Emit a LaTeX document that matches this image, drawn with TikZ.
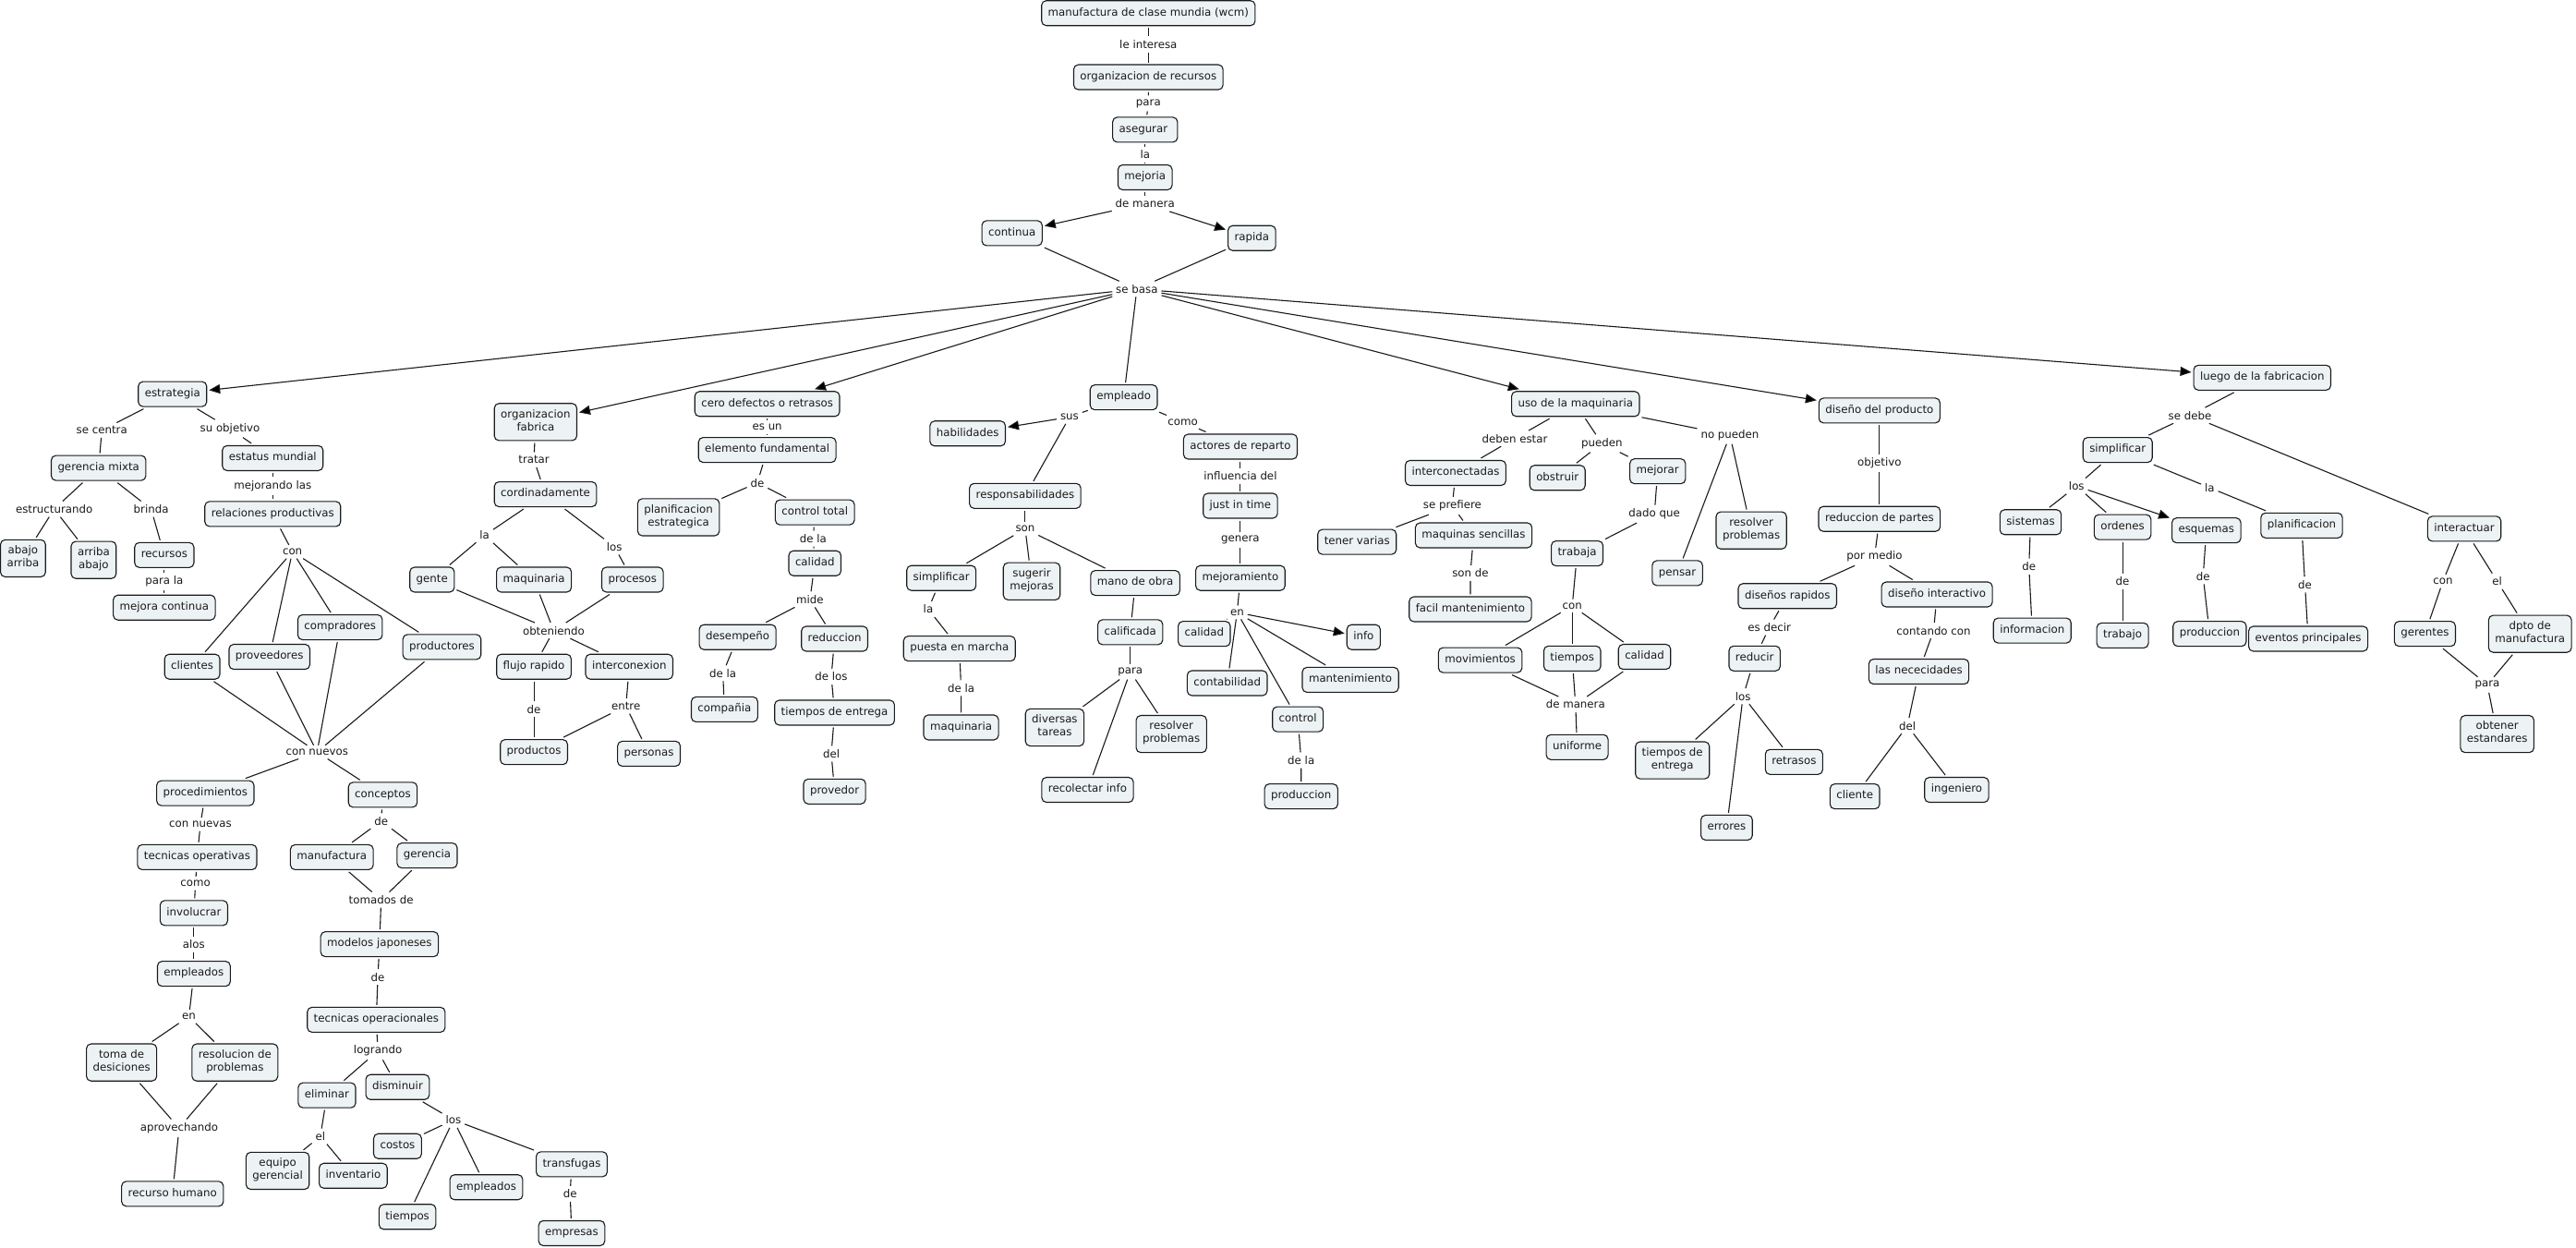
\documentclass[tikz,border=0pt]{standalone}
\usepackage{fontspec}
\setmainfont{DejaVu Sans}
\usetikzlibrary{arrows.meta}
\definecolor{boxfill}{HTML}{EDF3F5}
\definecolor{ink}{HTML}{1A1A1A}
\begin{document}
\begin{tikzpicture}[x=1.7787pt,y=-1.7776pt,
  every node/.style={font=\fontsize{11.8}{14}\selectfont, text=ink},
  cpt/.style={draw=ink, line width=1.1pt, rounded corners=5pt, fill=boxfill, inner xsep=7pt, inner ysep=6.5pt, align=center, outer sep=2.5pt, execute at begin node=\strut},
  lbl/.style={inner sep=3pt, outer sep=1pt, align=center},
  ln/.style={draw=ink, line width=1.1pt},
  arr/.style={-{Triangle[length=12pt,width=10pt]}},
]
\useasboundingbox[fill=white] (0,0) rectangle (1568,760);

% ---------- top chain ----------
\node[cpt] (wcm) at (699,8) {manufactura de clase mundia (wcm)};
\node[lbl] (l1) at (699,27) {le interesa};
\node[cpt] (orgrec) at (699,47) {organizacion de recursos};
\node[lbl] (l2) at (699,63) {para};
\node[cpt] (aseg) at (697,79) {asegurar\ };
\node[lbl] (l3) at (697,94) {la};
\node[cpt] (mejoria) at (697,108) {mejoria};
\node[lbl] (l4) at (697,124) {de manera};
\node[cpt] (continua) at (616,142) {continua};
\node[cpt] (rapida) at (762,145) {rapida};
\node[lbl] (sebasa) at (692,176) {se basa};

% ---------- estrategia ----------
\node[cpt] (estr) at (105,240) {estrategia};
\node[lbl] (l5) at (62,262) {se centra};
\node[lbl] (l6) at (140,261) {su objetivo};
\node[cpt] (germix) at (60,285) {gerencia mixta};
\node[cpt] (estmun) at (166,279) {estatus mundial};
\node[lbl] (l7) at (166,296) {mejorando las};
\node[cpt] (relprod) at (166,313) {relaciones productivas};
\node[lbl] (l8) at (33,310) {estructurando};
\node[lbl] (l9) at (92,310) {brinda};
\node[cpt] (abar) at (14,340) {abajo\\\strut arriba};
\node[cpt] (arab) at (57,341) {arriba\\\strut abajo};
\node[cpt] (recur) at (100,338) {recursos};
\node[lbl] (l10) at (100,354) {para la};
\node[cpt] (mejcont) at (100,370) {mejora continua};
\node[lbl] (l11) at (178,336) {con};
\node[cpt] (clientes) at (117,406) {clientes};
\node[cpt] (provee) at (164,400) {proveedores};
\node[cpt] (compra) at (207,382) {compradores};
\node[cpt] (produc) at (269,394) {productores};
\node[lbl] (l12) at (193,458) {con nuevos};
\node[cpt] (proced) at (125,483) {procedimientos};
\node[cpt] (concep) at (233,484) {conceptos};
\node[lbl] (l13) at (122,502) {con nuevas};
\node[cpt] (tecop) at (120,522) {tecnicas operativas};
\node[lbl] (l14) at (232,500) {de};
\node[cpt] (manuf) at (202,522) {manufactura};
\node[cpt] (geren) at (260,521) {gerencia};
\node[lbl] (l15) at (232,548) {tomados de};
\node[lbl] (l16) at (119,538) {como};
\node[cpt] (involu) at (118,556) {involucrar};
\node[lbl] (l17) at (118,575) {alos};
\node[cpt] (emplea1) at (118,593) {empleados};
\node[lbl] (l18) at (115,619) {en};
\node[cpt] (toma) at (74,647) {toma de\\\strut desiciones};
\node[cpt] (resol1) at (143,647) {resolucion de\\\strut problemas};
\node[lbl] (l19) at (109,687) {aprovechando};
\node[cpt] (rechum) at (105,727) {recurso humano};
\node[cpt] (modjap) at (231,575) {modelos japoneses};
\node[lbl] (l20) at (230,595) {de};
\node[cpt] (tecopr) at (229,621) {tecnicas operacionales};
\node[lbl] (l21) at (230,640) {logrando};
\node[cpt] (elim) at (199,667) {eliminar};
\node[cpt] (dismi) at (242,662) {disminuir};
\node[lbl] (l22) at (195,692) {el};
\node[cpt] (eqger) at (169,713) {equipo\\\strut gerencial};
\node[cpt] (invent) at (215,716) {inventario};
\node[lbl] (l23) at (276,682) {los};
\node[cpt] (costos) at (242,698) {costos};
\node[cpt] (tiemp1) at (248,741) {tiempos};
\node[cpt] (emplea2) at (296,723) {empleados};
\node[cpt] (transf) at (348,709) {transfugas};
\node[lbl] (l24) at (347,727) {de};
\node[cpt] (empres) at (348,751) {empresas};

% ---------- organizacion fabrica ----------
\node[cpt] (orgfab) at (326,257) {organizacion\\\strut fabrica};
\node[lbl] (l25) at (325,280) {tratar};
\node[cpt] (cordin) at (332,301) {cordinadamente};
\node[lbl] (l26) at (295,326) {la};
\node[lbl] (l27) at (374,333) {los};
\node[cpt] (gente) at (263,353) {gente};
\node[cpt] (maq1) at (325,353) {maquinaria};
\node[cpt] (proces) at (385,353) {procesos};
\node[lbl] (l28) at (337,384) {obteniendo};
\node[cpt] (flujo) at (325,406) {flujo rapido};
\node[cpt] (intercx) at (383,406) {interconexion};
\node[lbl] (l29) at (325,432) {de};
\node[lbl] (l30) at (381,430) {entre};
\node[cpt] (produc2) at (325,458) {productos};
\node[cpt] (person) at (395,459) {personas};

% ---------- cero defectos ----------
\node[cpt] (cero) at (467,246) {cero defectos o retrasos};
\node[lbl] (l31) at (467,260) {es un};
\node[cpt] (elemf) at (467,274) {elemento fundamental};
\node[lbl] (l32) at (461,294) {de};
\node[cpt] (planif1) at (413,315) {planificacion\\\strut estrategica};
\node[cpt] (ctrltot) at (496,312) {control total};
\node[lbl] (l33) at (495,328) {de la};
\node[cpt] (calid1) at (496,343) {calidad};
\node[lbl] (l34) at (493,365) {mide};
\node[cpt] (desemp) at (449,388) {desempeño};
\node[cpt] (reduc1) at (508,389) {reduccion};
\node[lbl] (l35) at (440,410) {de la};
\node[lbl] (l36) at (506,412) {de los};
\node[cpt] (compan) at (441,432) {compañia};
\node[cpt] (tiement1) at (508,434) {tiempos de entrega};
\node[lbl] (l37) at (506,459) {del};
\node[cpt] (provd) at (508,482) {provedor};

% ---------- empleado ----------
\node[cpt] (emplead) at (684,242) {empleado};
\node[lbl] (l38) at (651,254) {sus};
\node[lbl] (l39) at (720,257) {como};
\node[cpt] (habil) at (589,264) {habilidades};
\node[cpt] (actores) at (755,272) {actores de reparto};
\node[cpt] (respon) at (624,302) {responsabilidades};
\node[lbl] (l40) at (755,290) {influencia del};
\node[cpt] (jit) at (755,308) {just in time};
\node[lbl] (l41) at (624,322) {son};
\node[lbl] (l42) at (755,329) {genera};
\node[cpt] (simp1) at (573,352) {simplificar};
\node[cpt] (suger) at (628,354) {sugerir\\\strut mejoras};
\node[cpt] (manob) at (691,355) {mano de obra};
\node[cpt] (mejoram) at (755,352) {mejoramiento};
\node[lbl] (l43) at (565,371) {la};
\node[lbl] (l44) at (753,373) {en};
\node[cpt] (puesta) at (584,395) {puesta en marcha};
\node[cpt] (calif) at (688,385) {calificada};
\node[cpt] (calid2) at (733,386) {calidad};
\node[cpt] (info) at (830,388) {info};
\node[lbl] (l45) at (688,409) {para};
\node[cpt] (contab) at (747,416) {contabilidad};
\node[cpt] (manten) at (822,414) {mantenimiento};
\node[lbl] (l46) at (585,419) {de la};
\node[cpt] (maq2) at (585,443) {maquinaria};
\node[cpt] (divers) at (642,443) {diversas\\\strut tareas};
\node[cpt] (resol2) at (713,447) {resolver\\\strut problemas};
\node[cpt] (recol) at (662,481) {recolectar info};
\node[cpt] (control) at (790,438) {control};
\node[lbl] (l47) at (792,463) {de la};
\node[cpt] (produc3) at (792,485) {produccion};

% ---------- uso de la maquinaria ----------
\node[cpt] (uso) at (959,246) {uso de la maquinaria};
\node[lbl] (l48) at (922,267) {deben estar};
\node[lbl] (l49) at (975,270) {pueden};
\node[lbl] (l50) at (1053,265) {no pueden};
\node[cpt] (intercn) at (886,288) {interconectadas};
\node[cpt] (obstr) at (948,291) {obstruir};
\node[cpt] (mejorar) at (1009,287) {mejorar};
\node[lbl] (l51) at (884,308) {se prefiere};
\node[cpt] (tener) at (826,330) {tener varias};
\node[cpt] (maqsen) at (897,326) {maquinas sencillas};
\node[lbl] (l52) at (1007,313) {dado que};
\node[cpt] (resol3) at (1066,323) {resolver\\\strut problemas};
\node[cpt] (trabaja) at (960,337) {trabaja};
\node[lbl] (l53) at (895,349) {son de};
\node[cpt] (pensar) at (1021,349) {pensar};
\node[cpt] (facil) at (895,371) {facil mantenimiento};
\node[lbl] (l54) at (957,369) {con};
\node[cpt] (movim) at (901,402) {movimientos};
\node[cpt] (tiemp2) at (957,401) {tiempos};
\node[cpt] (calid3) at (1001,400) {calidad};
\node[lbl] (l55) at (959,429) {de manera};
\node[cpt] (unif) at (960,455) {uniforme};
\node[cpt] (tiement2) at (1018,463) {tiempos de\\\strut entrega};
\node[cpt] (retras) at (1092,464) {retrasos};
\node[cpt] (errores) at (1051,504) {errores};

% ---------- diseño del producto ----------
\node[cpt] (disprod) at (1144,250) {diseño del producto};
\node[lbl] (l56) at (1144,282) {objetivo};
\node[cpt] (redpart) at (1144,316) {reduccion de partes};
\node[lbl] (l57) at (1141,339) {por medio};
\node[cpt] (disrap) at (1088,363) {diseños rapidos};
\node[lbl] (l58) at (1077,382) {es decir};
\node[cpt] (disint) at (1179,362) {diseño interactivo};
\node[lbl] (l59) at (1177,384) {contando con};
\node[cpt] (reducir) at (1068,401) {reducir};
\node[cpt] (necec) at (1168,409) {las nececidades};
\node[lbl] (l60) at (1061,424) {los};
\node[lbl] (l61) at (1161,442) {del};
\node[cpt] (cliente) at (1129,485) {cliente};
\node[cpt] (ingen) at (1191,481) {ingeniero};

% ---------- luego de la fabricacion ----------
\node[cpt] (luego) at (1377,230) {luego de la fabricacion};
\node[lbl] (l62) at (1333,253) {se debe};
\node[cpt] (simp2) at (1289,274) {simplificar};
\node[lbl] (l63) at (1264,296) {los};
\node[lbl] (l64) at (1345,297) {la};
\node[cpt] (sistem) at (1236,318) {sistemas};
\node[cpt] (orden) at (1292,321) {ordenes};
\node[cpt] (esquem) at (1343,323) {esquemas};
\node[cpt] (planif2) at (1401,320) {planificacion};
\node[cpt] (interac) at (1500,322) {interactuar};
\node[lbl] (l65) at (1235,345) {de};
\node[lbl] (l66) at (1292,354) {de};
\node[lbl] (l67) at (1341,351) {de};
\node[lbl] (l68) at (1403,356) {de};
\node[lbl] (l69) at (1487,354) {con};
\node[lbl] (l70) at (1520,354) {el};
\node[cpt] (inform) at (1237,384) {informacion};
\node[cpt] (trabajo) at (1292,387) {trabajo};
\node[cpt] (produc4) at (1345,386) {produccion};
\node[cpt] (eventos) at (1405,389) {eventos principales};
\node[cpt] (gerent) at (1476,386) {gerentes};
\node[cpt] (dpto) at (1540,386) {dpto de\\\strut manufactura};
\node[lbl] (l71) at (1514,417) {para};
\node[cpt] (obten) at (1520,447) {obtener\\\strut estandares};

% ================= connectors =================
\draw[ln] (wcm) -- (l1) -- (orgrec);
\draw[ln] (orgrec) -- (l2) -- (aseg);
\draw[ln] (aseg) -- (l3) -- (mejoria);
\draw[ln] (mejoria) -- (l4);
\draw[ln] (l4) edge[arr] (continua) edge[arr] (rapida);
\draw[ln] (continua) -- (sebasa);
\draw[ln] (rapida) -- (sebasa);
\draw[ln] (sebasa) edge[arr] (estr) edge[arr] (orgfab) edge[arr] (cero)
      edge (emplead) edge[arr] (uso) edge[arr] (disprod) edge[arr] (luego);

% estrategia
\draw[ln] (estr) -- (l5) -- (germix);
\draw[ln] (estr) -- (l6) -- (estmun);
\draw[ln] (germix) -- (l8);
\draw[ln] (l8) edge (abar) edge (arab);
\draw[ln] (germix) -- (l9) -- (recur);
\draw[ln] (recur) -- (l10) -- (mejcont);
\draw[ln] (estmun) -- (l7) -- (relprod);
\draw[ln] (relprod) -- (l11);
\draw[ln] (l11) edge (clientes) edge (provee) edge (compra) edge (produc);
\draw[ln] (l12) edge (clientes) edge (provee) edge (compra) edge (produc)
      edge (proced) edge (concep);
\draw[ln] (proced) -- (l13) -- (tecop);
\draw[ln] (tecop) -- (l16) -- (involu);
\draw[ln] (involu) -- (l17) -- (emplea1);
\draw[ln] (emplea1) -- (l18);
\draw[ln] (l18) edge (toma) edge (resol1);
\draw[ln] (l19) edge (toma) edge (resol1) edge (rechum);
\draw[ln] (concep) -- (l14);
\draw[ln] (l14) edge (manuf) edge (geren);
\draw[ln] (l15) edge (manuf) edge (geren) edge (modjap);
\draw[ln] (modjap) -- (l20) -- (tecopr);
\draw[ln] (tecopr) -- (l21);
\draw[ln] (l21) edge (elim) edge (dismi);
\draw[ln] (elim) -- (l22);
\draw[ln] (l22) edge (eqger) edge (invent);
\draw[ln] (dismi) -- (l23);
\draw[ln] (l23) edge (costos) edge (tiemp1) edge (emplea2) edge (transf);
\draw[ln] (transf) -- (l24) -- (empres);

% organizacion fabrica
\draw[ln] (orgfab) -- (l25) -- (cordin);
\draw[ln] (cordin) -- (l26);
\draw[ln] (l26) edge (gente) edge (maq1);
\draw[ln] (cordin) -- (l27) -- (proces);
\draw[ln] (l28) edge (gente) edge (maq1) edge (proces) edge (flujo) edge (intercx);
\draw[ln] (flujo) -- (l29) -- (produc2);
\draw[ln] (intercx) -- (l30);
\draw[ln] (l30) edge (produc2) edge (person);

% cero defectos
\draw[ln] (cero) -- (l31) -- (elemf);
\draw[ln] (elemf) -- (l32);
\draw[ln] (l32) edge (planif1) edge (ctrltot);
\draw[ln] (ctrltot) -- (l33) -- (calid1);
\draw[ln] (calid1) -- (l34);
\draw[ln] (l34) edge (desemp) edge (reduc1);
\draw[ln] (desemp) -- (l35) -- (compan);
\draw[ln] (reduc1) -- (l36) -- (tiement1);
\draw[ln] (tiement1) -- (l37) -- (provd);

% empleado
\draw[ln] (emplead) -- (l38);
\draw[ln] (l38) edge[arr] (habil) edge (respon);
\draw[ln] (emplead) -- (l39) -- (actores);
\draw[ln] (actores) -- (l40) -- (jit);
\draw[ln] (jit) -- (l42) -- (mejoram);
\draw[ln] (mejoram) -- (l44);
\draw[ln] (l44) edge (calid2) edge (contab) edge (control) edge (manten) edge[arr] (info);
\draw[ln] (control) -- (l47) -- (produc3);
\draw[ln] (respon) -- (l41);
\draw[ln] (l41) edge (simp1) edge (suger) edge (manob);
\draw[ln] (simp1) -- (l43) -- (puesta);
\draw[ln] (puesta) -- (l46) -- (maq2);
\draw[ln] (manob) -- (calif);
\draw[ln] (calif) -- (l45);
\draw[ln] (l45) edge (divers) edge (recol) edge (resol2);

% uso de la maquinaria
\draw[ln] (uso) -- (l48) -- (intercn);
\draw[ln] (intercn) -- (l51);
\draw[ln] (l51) edge (tener) edge (maqsen);
\draw[ln] (maqsen) -- (l53) -- (facil);
\draw[ln] (uso) -- (l49);
\draw[ln] (l49) edge (obstr) edge (mejorar);
\draw[ln] (mejorar) -- (l52) -- (trabaja);
\draw[ln] (trabaja) -- (l54);
\draw[ln] (l54) edge (movim) edge (tiemp2) edge (calid3);
\draw[ln] (l55) edge (movim) edge (tiemp2) edge (calid3) edge (unif);
\draw[ln] (uso) -- (l50);
\draw[ln] (l50) edge (pensar) edge (resol3);

% diseño del producto
\draw[ln] (disprod) -- (l56) -- (redpart);
\draw[ln] (redpart) -- (l57);
\draw[ln] (l57) edge (disrap) edge (disint);
\draw[ln] (disrap) -- (l58) -- (reducir);
\draw[ln] (reducir) -- (l60);
\draw[ln] (l60) edge (tiement2) edge (errores) edge (retras);
\draw[ln] (disint) -- (l59) -- (necec);
\draw[ln] (necec) -- (l61);
\draw[ln] (l61) edge (cliente) edge (ingen);

% luego de la fabricacion
\draw[ln] (luego) -- (l62);
\draw[ln] (l62) edge (simp2) edge (interac);
\draw[ln] (simp2) -- (l63);
\draw[ln] (l63) edge (sistem) edge (orden) edge[arr] (esquem);
\draw[ln] (simp2) -- (l64) -- (planif2);
\draw[ln] (sistem) -- (l65) -- (inform);
\draw[ln] (orden) -- (l66) -- (trabajo);
\draw[ln] (esquem) -- (l67) -- (produc4);
\draw[ln] (planif2) -- (l68) -- (eventos);
\draw[ln] (interac) -- (l69) -- (gerent);
\draw[ln] (interac) -- (l70) -- (dpto);
\draw[ln] (l71) edge (gerent) edge (dpto) edge (obten);
\end{tikzpicture}
\end{document}
